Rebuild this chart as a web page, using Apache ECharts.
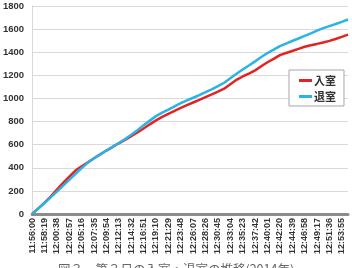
<!DOCTYPE html>
<html><head><meta charset="utf-8">
<script src="https://cdn.jsdelivr.net/npm/echarts@6/dist/echarts.min.js"></script>
<style>html,body{margin:0;padding:0;background:#fff}#c{width:352px;height:268px}</style>
</head><body><div id="c"></div>
<script>
// tick labels (every 139 s)
var tickLabels = ["11:56:00","11:58:19","12:00:38","12:02:57","12:05:16","12:07:35","12:09:54","12:12:13","12:14:32","12:16:51","12:19:10","12:21:29","12:23:48","12:26:07","12:28:26","12:30:45","12:33:04","12:35:23","12:37:42","12:40:01","12:42:20","12:44:39","12:46:58","12:49:17","12:51:36","12:53:55"];
// mid-point times between ticks
var midTimes = ["11:57:09","11:59:28","12:01:47","12:04:06","12:06:25","12:08:44","12:11:03","12:13:22","12:15:41","12:18:00","12:20:19","12:22:38","12:24:57","12:27:16","12:29:35","12:31:54","12:34:13","12:36:32","12:38:51","12:41:10","12:43:29","12:45:48","12:48:07","12:50:26","12:52:45","12:55:04"];
var seriesNames = ["入室","退室"];
var entering = [0,49,98,151,211,269,323,376,413,447,482,516,549,581,612,641,673,705,740,776,810,840,867,893,918,942,965,988,1012,1035,1059,1084,1123,1161,1190,1215,1243,1278,1313,1343,1375,1393,1411,1429,1447,1461,1472,1484,1498,1514,1533,1552];
var leaving = [0,47,95,144,194,245,296,348,397,445,482,516,549,581,614,648,685,725,769,808,847,877,904,932,960,984,1006,1029,1054,1079,1107,1136,1175,1213,1250,1285,1321,1358,1393,1422,1453,1475,1497,1519,1541,1563,1587,1608,1626,1644,1663,1683];
var caption = "図３　第３日の入室・退室の推移(2014年)";

var categories = [];
for (var i = 0; i < tickLabels.length; i++) { categories.push(tickLabels[i]); categories.push(midTimes[i]); }

var chart = echarts.init(document.getElementById('c'), null, {renderer:'canvas'});
chart.setOption({
  animation:false,
  backgroundColor:'#fff',
  grid:{left:30,right:4,top:6,bottom:54,containLabel:false},
  legend:{
    orient:'vertical', left:289, top:70, width:58,
    data:seriesNames,
    icon:'rect', itemWidth:13, itemHeight:3, itemGap:5,
    padding:[5,8,4,10],
    backgroundColor:'#fff', borderColor:'#a6a6a6', borderWidth:1,
    textStyle:{fontSize:11,fontWeight:'bold',color:'#333',fontFamily:'Noto Sans CJK JP',padding:[0,0,0,-3]}
  },
  xAxis:{
    type:'category', data:categories, boundaryGap:false,
    axisLine:{lineStyle:{color:'#8c8c8c',width:3}},
    axisTick:{show:false},
    axisLabel:{rotate:90,interval:1,fontSize:9,fontWeight:'bold',color:'#333',margin:4,fontFamily:'Liberation Sans'},
    splitLine:{show:false}
  },
  yAxis:{
    type:'value', min:0, max:1800, interval:200,
    axisLine:{show:true,lineStyle:{color:'#d9d9d9',width:1}},
    axisTick:{show:false},
    axisLabel:{fontSize:9.5,fontWeight:'bold',color:'#333',margin:8,fontFamily:'Liberation Sans',formatter:function(v){return String(v);}},
    splitLine:{lineStyle:{color:'#d9d9d9',width:1}}
  },
  series:[
    {name:seriesNames[0],type:'line',data:entering,showSymbol:false,symbol:'none',lineStyle:{color:'#e32322',width:2.5},itemStyle:{color:'#e32322'}},
    {name:seriesNames[1],type:'line',data:leaving,showSymbol:false,symbol:'none',lineStyle:{color:'#2ab3e6',width:2.5},itemStyle:{color:'#2ab3e6'}}
  ],
  graphic:[{type:'text',left:'center',top:263,style:{text:caption,fontSize:12.5,fill:'#666',fontFamily:'Noto Sans CJK JP'}}]
});
</script></body></html>
